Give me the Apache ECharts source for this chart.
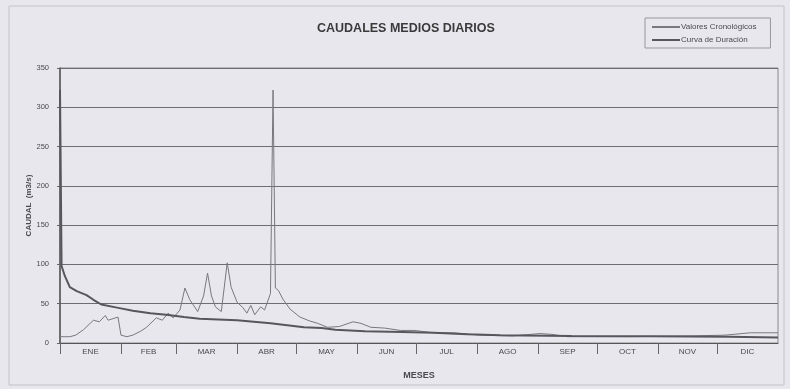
<!DOCTYPE html>
<html>
<head>
<meta charset="utf-8">
<script src="https://cdn.jsdelivr.net/npm/echarts@6/dist/echarts.min.js"></script>
<style>
  html, body { margin: 0; padding: 0; background: #e9e7ee; }
  #chart { width: 790px; height: 389px; }
</style>
</head>
<body>
<div id="chart"></div>
<script>
// month boundaries (day of year) and labels
const monthStarts = [0, 31, 59, 90, 120, 151, 181, 212, 243, 273, 304, 334]
const monthMids = [15.5, 45, 74.5, 105, 135.5, 166, 196.5, 227.5, 258, 288.5, 319, 349.5]
const monthNames = ['ENE', 'FEB', 'MAR', 'ABR', 'MAY', 'JUN', 'JUL', 'AGO', 'SEP', 'OCT', 'NOV', 'DIC']

// Valores Cronológicos
const cronoDays = [0, 5, 8, 12, 17, 20, 23, 24.5, 27, 29.5, 31, 34, 37, 41, 44, 49, 52, 55, 57.5, 61,
  63.5, 66, 70, 73, 75, 77, 79, 82, 85, 87, 90, 93, 95, 97, 99, 102, 104, 105, 107, 108.3, 109.5,
  111, 113.5, 117, 122, 127, 131, 136, 142, 149, 153, 158, 165, 173, 180, 190, 200, 214, 230, 244,
  250, 258, 290, 321, 338, 351, 365]
const cronoValues = [8, 8, 10, 17, 29, 27, 35, 29, 31, 33, 10, 8, 10, 15, 20, 32, 29, 38, 32, 42,
  70, 55, 40, 60, 89, 60, 46, 40, 102, 71, 52, 45, 38, 48, 36, 46, 42, 44, 63, 322, 70,
  67, 55, 43, 33, 28, 25, 20, 21, 27, 25, 20, 19, 16, 16, 13, 13, 10, 9, 12,
  11, 8, 8, 9, 10, 13, 13]

// Curva de Duración
const duracionDays = [0, 0.8, 2.5, 5, 8.5, 13.5, 17, 21, 29, 37, 46, 54, 63, 71, 90, 107, 124, 133,
  140, 155, 174, 190, 207, 224, 260, 300, 340, 365]
const duracionValues = [322, 98, 85, 71, 66, 61, 55, 49, 45, 41, 38, 36, 33, 31, 29, 25, 20, 19,
  17, 15, 14, 13, 11, 10, 9, 8.5, 8, 7]

const chart = echarts.init(document.getElementById('chart'))

const TEXT = '#4a494e'
const LINE = '#6f6d74'

const option = {
  backgroundColor: '#e9e7ee',
  animation: false,
  textStyle: { fontFamily: 'Liberation Sans, Arial, sans-serif' },
  title: {
    text: 'CAUDALES MEDIOS DIARIOS',
    left: 312,
    top: 17,
    textStyle: { fontSize: 12.5, fontWeight: 'bold', color: '#3a3a3a' },
  },
  legend: {
    orient: 'vertical',
    left: 645,
    top: 18,
    padding: [5, 14, 4, 6],
    itemGap: 5,
    itemWidth: 28,
    itemHeight: 6,
    borderColor: '#99979d',
    borderWidth: 1,
    itemStyle: { opacity: 0 },
    textStyle: { fontSize: 8, color: TEXT, padding: [0, 0, 0, -4] },
    data: ['Valores Cronológicos', 'Curva de Duración'],
  },
  grid: {
    left: 60,
    right: 12,
    top: 68,
    bottom: 46,
    show: true,
    borderColor: '#8a888e',
    borderWidth: 1,
    backgroundColor: 'transparent',
  },
  xAxis: {
    type: 'value',
    min: 0,
    max: 365,
    name: 'MESES',
    nameLocation: 'middle',
    nameGap: 28,
    nameMoveOverlap: false,
    nameTextStyle: { fontSize: 9, fontWeight: 'bold', color: TEXT },
    axisLine: { show: true, lineStyle: { color: '#555', width: 1 } },
    axisTick: {
      show: true,
      customValues: monthStarts,
      length: 11,
      lineStyle: { color: '#666' },
    },
    axisLabel: {
      customValues: monthMids,
      fontSize: 8,
      color: TEXT,
      margin: 5,
      formatter: (v) => monthNames[monthMids.indexOf(v)] || '',
    },
    splitLine: { show: false },
  },
  yAxis: {
    type: 'value',
    min: 0,
    max: 350,
    interval: 50,
    name: 'CAUDAL  (m3/s)',
    nameLocation: 'middle',
    nameGap: 27,
    nameMoveOverlap: false,
    nameTextStyle: { fontSize: 8, fontWeight: 'bold', color: TEXT },
    axisLine: { show: true, lineStyle: { color: '#555', width: 1.5 } },
    axisTick: { show: true, length: 3, lineStyle: { color: '#666' } },
    axisLabel: { fontSize: 7.5, color: TEXT, margin: 11 },
    splitLine: { show: true, lineStyle: { color: LINE, width: 1 } },
  },
  series: [
    {
      name: 'Valores Cronológicos',
      type: 'line',
      symbol: 'none',
      lineStyle: { color: '#7a787e', width: 1 },
      itemStyle: { color: '#7a787e' },
      data: cronoDays.map((d, i) => [d, cronoValues[i]]),
      z: 3,
    },
    {
      name: 'Curva de Duración',
      type: 'line',
      symbol: 'none',
      lineStyle: { color: '#58565c', width: 2 },
      itemStyle: { color: '#58565c' },
      data: duracionDays.map((d, i) => [d, duracionValues[i]]),
      z: 4,
    },
  ],
  graphic: [
    {
      type: 'rect',
      shape: { x: 9, y: 6, width: 775, height: 379 },
      style: { fill: 'none', stroke: '#c4c2c8', lineWidth: 1 },
      silent: true,
      z: -1,
    },
  ],
}

chart.setOption(option)
</script>
</body>
</html>
